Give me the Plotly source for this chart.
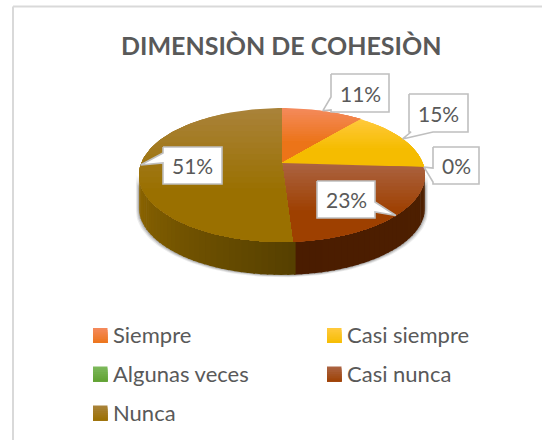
import math
import plotly.graph_objects as go

TITLE = "DIMENSIÒN DE COHESIÒN"
categories = ["Siempre", "Casi siempre", "Algunas veces", "Casi nunca", "Nunca"]
values = [11, 15, 0, 23, 51]
labels = ["11%", "15%", "0%", "23%", "51%"]
top_colors = ["#F4895A", "#FFC93A", "#7CB85A", "#AB6240", "#A98238"]
base_colors = ["#EC7418", "#F5BC00", "#5FA030", "#9E4000", "#9A7000"]
FONT = "Lato"
TXT = "#595959"

CX, CY, A, B, P = 282.0, 163.0, 64.8, 140.7, 0.179
DEPTH = 33.0


def project(frac):
    t = 2 * math.pi * frac
    X, Y = math.sin(t), math.cos(t)
    d = 1 + P * Y
    return CX + B * X / d, CY - A * Y / d


def rgb(c):
    return tuple(int(c[i:i + 2], 16) for i in (1, 3, 5))


def mix(c1, c2, t):
    a, b = rgb(c1), rgb(c2)
    return "rgb(%d,%d,%d)" % tuple(round(a[i] + (b[i] - a[i]) * t) for i in range(3))


def clip_below(poly, y0):
    out = []
    n = len(poly)
    for i in range(n):
        p, q = poly[i], poly[(i + 1) % n]
        pin, qin = p[1] >= y0, q[1] >= y0
        if pin:
            out.append(p)
        if pin != qin:
            s = (y0 - p[1]) / (q[1] - p[1])
            out.append((p[0] + s * (q[0] - p[0]), y0))
    return out


fig = go.Figure()


def add_poly(poly, fill, line=None, lw=0, opacity=None):
    xs = [p[0] for p in poly] + [poly[0][0]]
    ys = [p[1] for p in poly] + [poly[0][1]]
    fig.add_trace(go.Scatter(
        x=xs, y=ys, mode="lines", fill="toself", fillcolor=fill,
        line=dict(color=line or "rgba(0,0,0,0)", width=lw),
        hoverinfo="skip", showlegend=False, opacity=opacity))


def gradient_poly(poly, c_top, c_base, stop=0.6, steps=14):
    ys = [p[1] for p in poly]
    y0, y1 = min(ys), max(ys)
    for k in range(steps + 1):
        yy = y0 + (y1 - y0) * stop * k / steps
        cut = clip_below(poly, yy) if k else poly
        if len(cut) >= 3:
            add_poly(cut, mix(c_top, c_base, k / steps))


total = sum(values)
starts, acc = [], 0
for v in values:
    starts.append(acc / total)
    acc += v
mids = [s + v / total / 2 for s, v in zip(starts, values)]

# Silhouette of the disc between the two widest points
f_r, f_l = (math.pi - math.acos(P)) / (2 * math.pi), 1 - (math.pi - math.acos(P)) / (2 * math.pi)

# soft shadow beneath the side wall
arc = [project(f_r + (f_l - f_r) * i / 80) for i in range(81)]
for grow, alpha in ((3.0, 0.10), (2.0, 0.16), (1.0, 0.22)):
    add_poly([(x + (x - CX) * grow / 140, y) for x, y in arc] +
             [(x + (x - CX) * grow / 140, y + DEPTH + grow * 0.8) for x, y in reversed(arc)],
             "rgba(70,70,70,%.2f)" % alpha)

# side wall in narrow facets
SIDE_N = 70
split = starts[4]
for i in range(SIDE_N):
    a0 = f_r + (f_l - f_r) * i / SIDE_N
    a1 = f_r + (f_l - f_r) * (i + 1.25) / SIDE_N
    a1 = min(a1, f_l)
    am = (a0 + a1) / 2
    p0, p1 = project(a0), project(a1)
    if am < split:
        s = abs(am - split) / (split - f_r)
        col = mix("#4A1C00", "#4E2000", s)
    else:
        s = (am - split) / (f_l - split)
        col = mix("#564000", "#8F6700", s)
    add_poly([p0, p1, (p1[0], p1[1] + DEPTH), (p0[0], p0[1] + DEPTH)], col)

# top face
for s, v, ct, cb in zip(starts, values, top_colors, base_colors):
    if v == 0:
        continue
    n = max(6, int(v * 2))
    poly = [(CX, CY)] + [project(s + v / total * i / n) for i in range(n + 1)]
    gradient_poly(poly, ct, cb)

# callouts: rectangle, side that carries the pointer, pointer base
boxes = [
    (331, 74, 389, 112, "L", 97, 110),
    (409, 94, 468, 132, "B", 433, 411),
    (433, 147, 479, 184, "L", 168, 182),
    (317, 181, 375, 218, "R", 202, 212),
    (163, 147, 222, 184, "L", 153, 163),
]
for (x0, y0, x1, y1, side, b0, b1), lab, m in zip(boxes, labels, mids):
    tip = project(m)
    if side == "L":
        pts = [(x0, y0), (x1, y0), (x1, y1), (x0, y1), (x0, b1), tip, (x0, b0)]
    elif side == "R":
        pts = [(x0, y0), (x1, y0), (x1, b0), tip, (x1, b1), (x1, y1), (x0, y1)]
    else:
        pts = [(x0, y0), (x1, y0), (x1, y1), (b0, y1), tip, (b1, y1), (x0, y1)]
    add_poly(pts, "white", "#BFBFBF", 1.6)
    fig.add_annotation(x=(x0 + x1) / 2, y=(y0 + y1) / 2, text=lab, showarrow=False,
                       font=dict(family=FONT, size=21, color=TXT))

# legend
slots = [(93, 335.5), (327, 335.5), (93, 374), (327, 374), (93, 413)]
for (lx, ly), name, ct, cb in zip(slots, categories, top_colors, base_colors):
    gradient_poly([(lx, ly - 7.5), (lx + 14.5, ly - 7.5), (lx + 14.5, ly + 7.5), (lx, ly + 7.5)],
                  ct, cb, stop=1.0, steps=8)
    fig.add_annotation(x=lx + 18, y=ly - 1, text=name, showarrow=False, xanchor="left",
                       font=dict(family=FONT, size=22, color=TXT))

fig.add_annotation(x=281, y=44.5, text="<b>%s</b>" % TITLE, showarrow=False,
                   font=dict(family=FONT, size=25, color=TXT))

# chart frame (left and top edges are inside the crop)
fig.add_shape(type="line", x0=13, x1=13, y0=6.5, y1=440, line=dict(color="#D9D9D9", width=2))
fig.add_shape(type="line", x0=13, x1=542, y0=6.5, y1=6.5, line=dict(color="#D9D9D9", width=2))

fig.update_layout(
    width=542, height=440, margin=dict(l=0, r=0, t=0, b=0),
    paper_bgcolor="white", plot_bgcolor="white", showlegend=False,
    xaxis=dict(range=[0, 542], visible=False, fixedrange=True),
    yaxis=dict(range=[440, 0], visible=False, fixedrange=True),
)
fig.write_html("out.html", config={"displayModeBar": False},
               post_script="document.body.style.margin='0';document.documentElement.style.overflow='hidden';")
